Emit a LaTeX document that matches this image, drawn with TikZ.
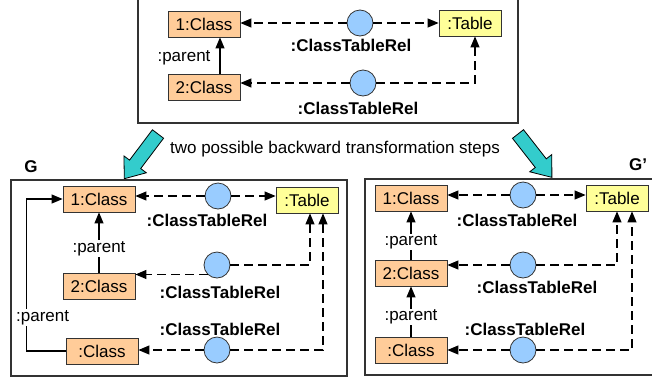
\documentclass[tikz,border=0pt]{standalone}
\usepackage{fontspec}
\setmainfont{Liberation Sans}
\usetikzlibrary{arrows.meta,positioning}
\definecolor{clsfill}{HTML}{FFCC99}
\definecolor{tabfill}{HTML}{FFFF99}
\definecolor{relfill}{HTML}{99CCFF}
\definecolor{stepfill}{HTML}{33CCCC}
\newcommand{\dgfont}{\fontsize{17}{20}\selectfont}
\begin{document}
\begin{tikzpicture}[x=1pt,y=-1pt,font=\dgfont,
 cls/.style={draw=black!80,line width=0.8pt,fill=clsfill,minimum width=72pt,minimum height=26pt,inner sep=2pt},
 tab/.style={draw=black!80,line width=0.8pt,fill=tabfill,minimum width=62pt,minimum height=26pt,inner sep=2pt},
 rel/.style={circle,draw=black!80,line width=0.8pt,fill=relfill,minimum size=26pt,inner sep=0pt},
 rellbl/.style={font=\dgfont\bfseries,inner sep=1pt},
 gname/.style={font=\dgfont\bfseries,inner sep=1pt},
 plbl/.style={fill=white,inner sep=1pt},
 panel/.style={draw=black!80,line width=1.2pt},
 link/.style={dash pattern=on 9pt off 5pt,line width=1.1pt,-{Triangle[length=11pt,width=9pt]}},
 parentarr/.style={line width=1.1pt,-{Triangle[length=11pt,width=9pt]}},
 bigstep/.style={draw=black,line width=0.8pt,fill=stepfill,line join=miter}]
\useasboundingbox (0,0) rectangle (652,381);
% rule pattern
\draw[panel] (138,-5) rectangle (518,123);
\node[cls] (c1) at (204,24) {1:Class};
\node[cls] (c2) at (204,87) {2:Class};
\node[tab] (t) at (470,23) {:Table};
\node[rel] (r1) at (360,23) {};
\node[rel] (r2) at (363,83) {};
\node[rellbl,below=1.5pt of r1,xshift=-9pt] (l1) {:ClassTableRel};
\node[rellbl,below=4.5pt of r2,xshift=-5pt] (l2) {:ClassTableRel};
\node (p0) at (184,58) {:parent};
\draw[parentarr] ([xshift=16pt]c2.north) -- ([xshift=16pt]c1.south);
\draw[link] (r1) -- (c1.east |- r1);
\draw[link] (r1) -- (t.west |- r1);
\draw[link] (r2) -- (c2.east |- r2);
\coordinate (k2) at (475,83);
\draw[link] (r2) -- (k2) -- (k2 |- t.south);

% the two steps
\begin{scope}[shift={(158,134)},rotate=233]
\draw[bigstep] (0,-7) -- (38,-7) -- (38,-14) -- (56,0) -- (38,14) -- (38,7) -- (0,7) -- cycle;
\end{scope}
\begin{scope}[shift={(518,134)},rotate=-52]
\draw[bigstep] (0,-7) -- (37,-7) -- (37,-14) -- (55,0) -- (37,14) -- (37,7) -- (0,7) -- cycle;
\end{scope}
\node (steps) at (335,149) {two possible backward transformation steps};

% graph G
\draw[panel] (11,180) rectangle (347,376);
\node[gname] (gn) at (31,167) {G};
\node[cls] (g1) at (99,199) {1:Class};
\node[cls] (g2) at (99,286) {2:Class};
\node[cls] (g3) at (102,351) {:Class};
\node[tab] (gt) at (307,200) {:Table};
\node[rel] (gr1) at (218,196) {};
\node[rel] (gr2) at (217,265) {};
\node[rel] (gr3) at (217,350) {};
\node[rellbl,below=3.5pt of gr1,xshift=-11pt] (gl1) {:ClassTableRel};
\node[rellbl,below=6.5pt of gr2,xshift=3pt] (gl2) {:ClassTableRel};
\node[rellbl,above=0pt of gr3,xshift=3pt] (gl3) {:ClassTableRel};
\draw[parentarr] (g2) -- node[plbl,pos=0.4] {:parent} (g1);
\draw[parentarr] (g3.west) -- ++(-39,0) |- node[plbl,pos=0.11,xshift=16pt] {:parent} (g1.west);
\draw[link] (gr1) -- (g1.east |- gr1);
\draw[link] (gr1) -- (gt.west |- gr1);
\draw[link] (gr2.south west) -- (g2.east |- gr2.south west);
\coordinate (gk2) at (310,265);
\draw[link] (gr2) -- (gk2) -- (gk2 |- gt.south);
\draw[link] (gr3) -- (g3.east |- gr3);
\coordinate (gk3) at (323,350);
\draw[link] (gr3) -- (gk3) -- (gk3 |- gt.south);

% graph G'
\draw[panel] (365,179) rectangle (662,375);
\node[gname] (hn) at (638,165) {G’};
\node[cls] (h1) at (411,198) {1:Class};
\node[cls] (h2) at (411,273) {2:Class};
\node[cls] (h3) at (411,350) {:Class};
\node[tab] (ht) at (617,198) {:Table};
\node[rel] (hr1) at (523,195) {};
\node[rel] (hr2) at (523,265) {};
\node[rel] (hr3) at (523,350) {};
\node[rellbl,below=4.5pt of hr1,xshift=-6pt] (hl1) {:ClassTableRel};
\node[rellbl,below=1.5pt of hr2,xshift=14pt] (hl2) {:ClassTableRel};
\node[rellbl,above=0pt of hr3,xshift=2pt] (hl3) {:ClassTableRel};
\draw[parentarr] (h2) -- node[plbl,pos=0.37] {:parent} (h1);
\draw[parentarr] (h3) -- node[plbl,pos=0.39] {:parent} (h2);
\draw[link] (hr1) -- (h1.east |- hr1);
\draw[link] (hr1) -- (ht.west |- hr1);
\draw[link] (hr2) -- (h2.east |- hr2);
\coordinate (hk2) at (617,265);
\draw[link] (hr2) -- (hk2) -- (hk2 |- ht.south);
\draw[link] (hr3) -- (h3.east |- hr3);
\coordinate (hk3) at (632,350);
\draw[link] (hr3) -- (hk3) -- (hk3 |- ht.south);
\end{tikzpicture}
\end{document}
